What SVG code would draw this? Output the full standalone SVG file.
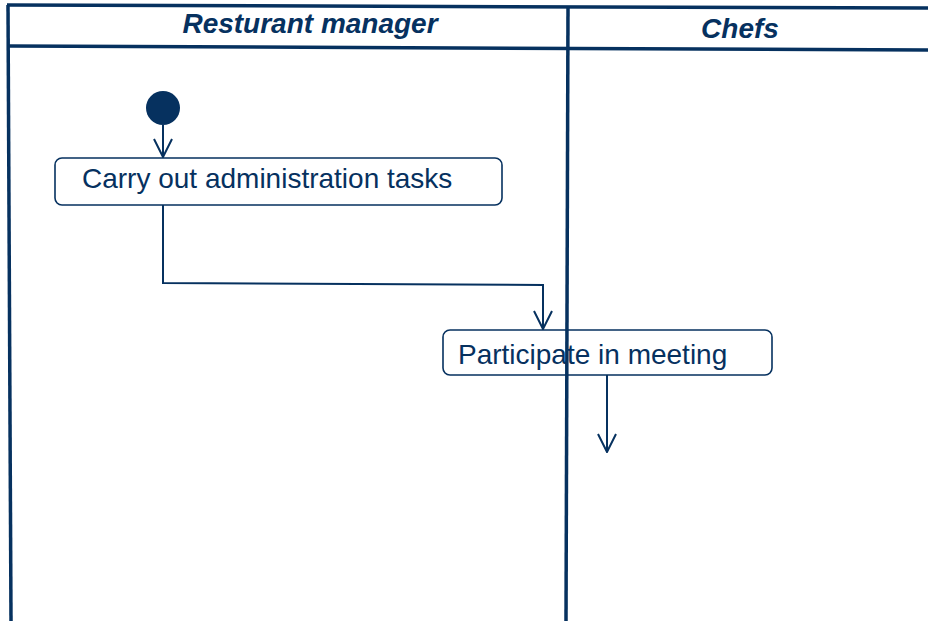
<svg xmlns="http://www.w3.org/2000/svg" width="928" height="621" viewBox="0 0 928 621">
<style>
.lane{stroke:#06315f;stroke-width:3.5;fill:none}
.box{fill:#fff;stroke:#06315f;stroke-width:1.6}
.lbl{font-family:"Liberation Sans",Arial,sans-serif;font-size:28px;fill:#06315f}
.hdr{font-family:"Liberation Sans",Arial,sans-serif;font-size:28px;font-weight:bold;font-style:italic;fill:#06315f}
.conn{stroke:#06315f;stroke-width:2;fill:none}
</style>
<defs>
<marker id="arr" viewBox="0 0 20 20" refX="19" refY="10" markerWidth="20" markerHeight="20" markerUnits="userSpaceOnUse" orient="auto">
<path d="M1,1 L19,10 L1,19" fill="none" stroke="#06315f" stroke-width="2"/>
</marker>
</defs>
<g id="swimlanes">
<line class="lane" x1="7" y1="5" x2="928" y2="8"/>
<line class="lane" x1="9" y1="46" x2="928" y2="50"/>
<line class="lane" x1="8" y1="5" x2="11" y2="621"/>
<text class="hdr" x="310" y="33" text-anchor="middle">Resturant manager</text>
<text class="hdr" x="740" y="38" text-anchor="middle">Chefs</text>
</g>
<g id="start">
<circle cx="163" cy="108" r="17" fill="#06315f"/>
</g>
<g id="connectors">
<line class="conn" x1="163" y1="125" x2="163" y2="157" marker-end="url(#arr)"/>
<polyline class="conn" points="163,205 163,283 543,285 543,329" marker-end="url(#arr)"/>
<line class="conn" x1="607" y1="375" x2="607" y2="452" marker-end="url(#arr)"/>
</g>
<g id="task1">
<rect class="box" x="55" y="158" width="447" height="47" rx="7"/>
<text class="lbl" x="82" y="188">Carry out administration tasks</text>
</g>
<g id="task2">
<rect class="box" x="443" y="330" width="329" height="45" rx="7"/>
<text class="lbl" x="458" y="364">Participate in meeting</text>
</g>
<g id="lane-divider">
<line class="lane" x1="568" y1="7" x2="566" y2="621"/>
</g>
</svg>
